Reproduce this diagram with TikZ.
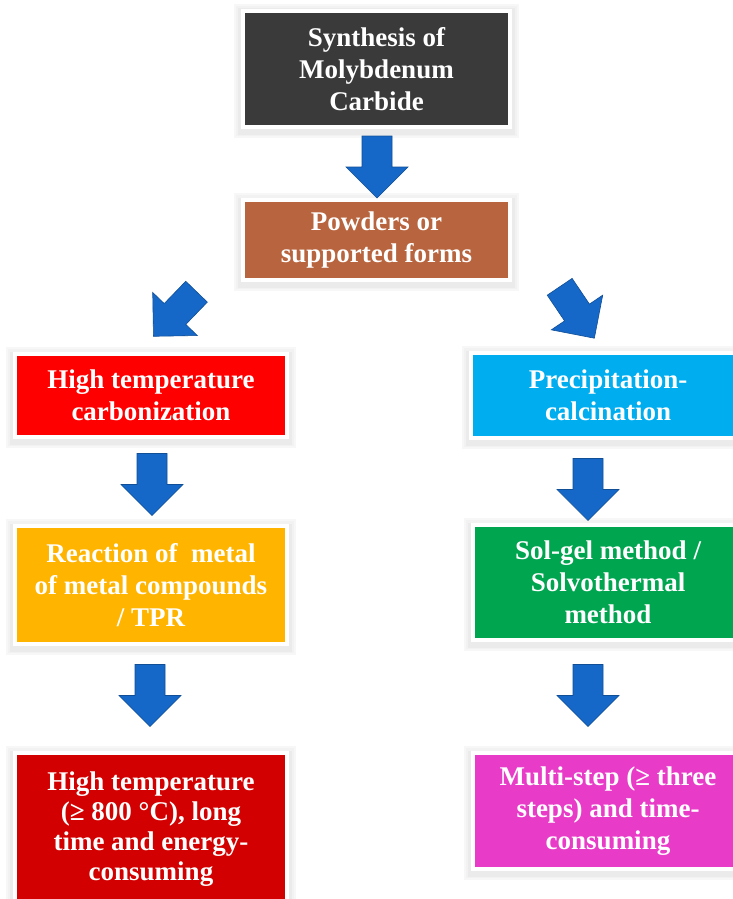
\documentclass[tikz,border=0pt]{standalone}
\usepackage{fontspec}
\setmainfont{Liberation Serif}
\usetikzlibrary{calc}
\definecolor{synthgray}{RGB}{58,58,58}
\definecolor{powderbrown}{RGB}{184,100,62}
\definecolor{carbred}{RGB}{255,0,0}
\definecolor{precipcyan}{RGB}{0,174,239}
\definecolor{reactgold}{RGB}{255,180,0}
\definecolor{solgreen}{RGB}{0,165,80}
\definecolor{hotred}{RGB}{210,0,0}
\definecolor{multimag}{RGB}{232,60,200}
\definecolor{arrowblue}{RGB}{22,104,200}
\begin{document}
\begin{tikzpicture}[x=1pt, y=-1pt,
	box/.style={fill=#1, draw=white, line width=4pt, text=white, align=center, inner sep=0pt,
		font=\fontsize{27}{32}\selectfont\bfseries,
		preaction={draw=black!3, line width=18pt, transform canvas={yshift=-2pt}},
		preaction={draw=black!5, line width=14pt, transform canvas={yshift=-2pt}},
		preaction={draw=black!8, line width=10pt, transform canvas={yshift=-2.5pt}}},
	pics/blockarrow/.style={code={
		\fill[arrowblue, draw=arrowblue!75!black, line width=0.6pt]
			(-31,-15) -- (0,-15) -- (0,-31) -- (31,0) -- (0,31) -- (0,15) -- (-31,15) -- cycle;
	}}]
	\clip (0,0) rectangle (733,899);
	\fill[white] (0,0) rectangle (733,899);
	% top
	\node[box=synthgray, minimum width=267, minimum height=116] (synth) at (376.5,69)
		{Synthesis of\\Molybdenum\\Carbide};
	\node[box=powderbrown, minimum width=267, minimum height=80] (powder) at (376.5,240)
		{Powders or\\supported forms};
	% left branch
	\node[box=carbred, minimum width=272, minimum height=83] (hightemp) at (151,395.5)
		{High temperature\\carbonization};
	\node[box=reactgold, minimum width=272, minimum height=118] (react) at (151,585)
		{Reaction of \ metal\\of metal compounds\\/ TPR};
	\node[box=hotred, minimum width=272, minimum height=152, font=\fontsize{27}{30}\selectfont\bfseries] (hot) at (151,829)
		{High temperature\\(≥ 800 °C), long\\time and energy-\\consuming};
	% right branch
	\node[box=precipcyan, minimum width=274, minimum height=85] (precip) at (608,395.5)
		{Precipitation-\\calcination};
	\node[box=solgreen, minimum width=270, minimum height=115] (solgel) at (608,582.5)
		{Sol-gel method /\\Solvothermal\\method};
	\node[box=multimag, minimum width=270, minimum height=116] (multi) at (608,811)
		{Multi-step (≥ three\\steps) and time-\\consuming};
	% block arrows
	\pic[rotate=-90] at ($(synth.south)!0.5!(powder.north)+(0.5,3.5)$) {blockarrow};
	\pic[rotate=226] at ($(powder.south west)!0.5!(hightemp.north)+(-21,-3)$) {blockarrow};
	\pic[rotate=-56] at ($(powder.south east)!0.5!(precip.north)+(17,-4)$) {blockarrow};
	\pic[rotate=-90] at ($(hightemp.south)!0.5!(react.north)+(1,3)$) {blockarrow};
	\pic[rotate=-90] at ($(react.south)!0.5!(hot.north)+(-1,-3)$) {blockarrow};
	\pic[rotate=-90] at ($(precip.south)!0.5!(solgel.north)+(-20,8)$) {blockarrow};
	\pic[rotate=-90] at ($(solgel.south)!0.5!(multi.north)+(-20,-1)$) {blockarrow};
\end{tikzpicture}
\end{document}
